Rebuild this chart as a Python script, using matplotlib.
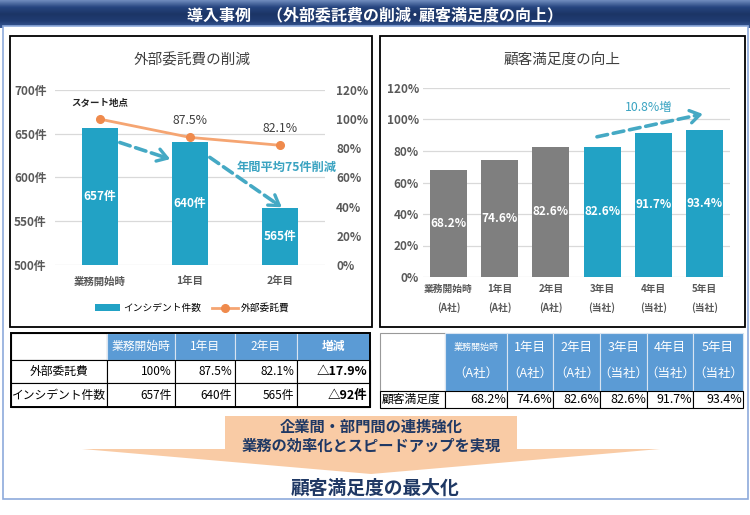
import numpy as np
import matplotlib
matplotlib.use("Agg")
import matplotlib.pyplot as plt
from matplotlib.patches import Rectangle, Polygon
from matplotlib.colors import LinearSegmentedColormap

plt.rcParams["font.family"] = ["Noto Sans CJK JP", "DejaVu Sans"]

# ---- data ----
left_cats = ["業務開始時", "1年目", "2年目"]
incidents = [657, 640, 565]
cost_pct = [100, 87.5, 82.1]
inc_ticks = [500, 550, 600, 650, 700]
pct_ticks = [0, 20, 40, 60, 80, 100, 120]

right_cats = ["業務開始時", "1年目", "2年目", "3年目", "4年目", "5年目"]
companies = ["A社", "A社", "A社", "当社", "当社", "当社"]
satisfaction = [68.2, 74.6, 82.6, 82.6, 91.7, 93.4]

TEAL = "#22a2c5"
GRAY = "#7f7f7f"
ARROW = "#45a9c4"
HEAD_BLUE = "#5b9bd5"
NAVY = "#1f3864"

W, H = 750, 515
fig = plt.figure(figsize=(W / 100, H / 100), dpi=100)


def fax(x0, y0, x1, y1):
    return fig.add_axes([x0 / W, 1 - y1 / H, (x1 - x0) / W, (y1 - y0) / H])


def dashed_arrow(ax, start, end, color=ARROW):
    ax.annotate("", xy=end, xytext=start, annotation_clip=False,
                arrowprops=dict(arrowstyle="-", lw=2.6, color=color,
                                linestyle=(0, (3, 1.6)), shrinkA=0, shrinkB=3))
    p0 = ax.transData.transform(start)
    p1 = ax.transData.transform(end)
    d = (p1 - p0) / np.hypot(*(p1 - p0))
    back = -d * 8 * 0.72
    ax.annotate("", xy=end, xytext=(back[0], back[1]), textcoords="offset points",
                annotation_clip=False,
                arrowprops=dict(arrowstyle="->,head_length=0.7,head_width=0.45",
                                lw=2.4, color=color, shrinkA=0, shrinkB=0))


# ---- background overlay (pixel coords) ----
ov = fig.add_axes([0, 0, 1, 1])
ov.set_xlim(0, W)
ov.set_ylim(H, 0)
ov.axis("off")

ov.add_patch(Rectangle((3, 26), 745, 473, facecolor="white", edgecolor="#8eaadb", lw=1.2))
cmap = LinearSegmentedColormap.from_list("banner", ["#6f8bbd", "#26457f", "#1c3566", "#203c72", "#3a5a96"])
grad = np.linspace(0, 1, 50).reshape(-1, 1)
ov.imshow(grad, extent=[0, W, 28, 0], aspect="auto", cmap=cmap, origin="upper")
ov.set_xlim(0, W)
ov.set_ylim(H, 0)
ov.text(375, 15, "導入事例　（外部委託費の削減･顧客満足度の向上）", color="white",
        fontsize=11.5, fontweight="bold", ha="center", va="center")

# panel boxes
ov.add_patch(Rectangle((10, 36), 362, 291, facecolor="white", edgecolor="black", lw=1.3))
ov.add_patch(Rectangle((380, 36), 365, 291, facecolor="white", edgecolor="black", lw=1.3))
ov.text(192, 60, "外部委託費の削減", fontsize=10.5, color="#404040", ha="center", va="center")
ov.text(562, 60, "顧客満足度の向上", fontsize=10.5, color="#404040", ha="center", va="center")

# ---- left table ----
lx = [11, 107, 175, 235, 297, 370]
ly = [333, 360, 383, 407]
cost_cells = [f"{v:g}%" for v in cost_pct]
inc_cells = [f"{v}件" for v in incidents]
rows = [
    ["外部委託費"] + cost_cells + [f"△{cost_pct[0] - cost_pct[-1]:.1f}%"],
    ["インシデント件数"] + inc_cells + [f"△{incidents[0] - incidents[-1]}件"],
]
header = [""] + left_cats + ["増減"]
for j in range(5):
    fc = "white" if j == 0 else HEAD_BLUE
    ec = "black" if j == 0 else "#d8e4f2"
    ov.add_patch(Rectangle((lx[j], ly[0]), lx[j + 1] - lx[j], ly[1] - ly[0], facecolor=fc, edgecolor=ec, lw=0.8))
    ov.text((lx[j] + lx[j + 1]) / 2, (ly[0] + ly[1]) / 2, header[j], color="white", fontsize=8.5,
            fontweight="bold" if j == 4 else "normal", ha="center", va="center")
for i, row in enumerate(rows):
    y0, y1 = ly[i + 1], ly[i + 2]
    for j in range(5):
        ov.add_patch(Rectangle((lx[j], y0), lx[j + 1] - lx[j], y1 - y0, facecolor="white", edgecolor="black", lw=0.8))
        if j == 0:
            ov.text((lx[0] + lx[1]) / 2, (y0 + y1) / 2, row[j], fontsize=8.5, ha="center", va="center")
        else:
            ov.text(lx[j + 1] - 3, (y0 + y1) / 2, row[j], fontsize=8.5 if j < 4 else 9,
                    fontweight="bold" if j == 4 else "normal", ha="right", va="center")
ov.add_patch(Rectangle((lx[0], ly[0]), lx[-1] - lx[0], ly[-1] - ly[0], fill=False, edgecolor="black", lw=1.4))

# ---- right table ----
rx = [380, 445, 507, 553, 600, 647, 693, 743]
ry = [333, 391, 408]
ov.add_patch(Rectangle((rx[0], ry[0]), rx[1] - rx[0], ry[1] - ry[0], facecolor="white", edgecolor="#999999", lw=0.8))
for j, (cat, co) in enumerate(zip(right_cats, companies)):
    x0, x1 = rx[j + 1], rx[j + 2]
    ov.add_patch(Rectangle((x0, ry[0]), x1 - x0, ry[1] - ry[0], facecolor=HEAD_BLUE, edgecolor="#d8e4f2", lw=0.8))
    ov.text((x0 + x1) / 2, 347, cat, color="white", fontsize=6.5 if len(cat) > 3 else 9, ha="center", va="center")
    ov.text((x0 + x1) / 2, 373, f"（{co}）", color="white", fontsize=9, ha="center", va="center")
ov.add_patch(Rectangle((rx[0], ry[1]), rx[1] - rx[0], ry[2] - ry[1], facecolor="white", edgecolor="black", lw=0.8))
ov.text(rx[0] + 2, (ry[1] + ry[2]) / 2, "顧客満足度", fontsize=8.5, ha="left", va="center")
for j, v in enumerate(satisfaction):
    x0, x1 = rx[j + 1], rx[j + 2]
    ov.add_patch(Rectangle((x0, ry[1]), x1 - x0, ry[2] - ry[1], facecolor="white", edgecolor="black", lw=0.8))
    ov.text(x1 - 1, (ry[1] + ry[2]) / 2, f"{v:.1f}%", fontsize=9, ha="right", va="center")

# ---- bottom arrow ----
PEACH = "#f9cba5"
ov.add_patch(Rectangle((225, 416), 292, 34, facecolor=PEACH, edgecolor="none"))
ov.add_patch(Polygon([(82, 449), (660, 449), (371, 474)], closed=True, facecolor=PEACH, edgecolor="none"))
ov.text(371, 427, "企業間・部門間の連携強化", fontsize=11, fontweight="bold", color=NAVY, ha="center", va="center")
ov.text(371, 446, "業務の効率化とスピードアップを実現", fontsize=11, fontweight="bold", color=NAVY, ha="center", va="center")
ov.text(375, 488, "顧客満足度の最大化", fontsize=13.5, fontweight="bold", color=NAVY, ha="center", va="center")

# ---- left chart ----
ax1 = fax(55, 90, 325, 265)
x = np.arange(len(left_cats))
bars = ax1.bar(x, incidents, width=0.39, color=TEAL, zorder=3)
ax1.set_xlim(-0.5, len(left_cats) - 0.5)
ax1.set_ylim(inc_ticks[0], inc_ticks[-1])
ax1.set_yticks(inc_ticks)
ax1.set_yticklabels([f"{t}件" for t in inc_ticks], fontsize=8.5, fontweight="bold", color="#595959")
ax1.set_xticks(x)
ax1.set_xticklabels(left_cats, fontsize=7.5, fontweight="bold", color="#595959")
ax1.yaxis.grid(True, color="#d9d9d9", lw=0.9)
ax1.set_axisbelow(True)
ax1.tick_params(length=0, axis="y", pad=6)
ax1.tick_params(length=0, axis="x", pad=8)
for s in ax1.spines.values():
    s.set_visible(False)
ax1.patch.set_alpha(0)
for xi, v in zip(x, incidents):
    ax1.text(xi, inc_ticks[0] + (v - inc_ticks[0]) / 2, f"{v}件", color="white",
             fontsize=8.5, fontweight="bold", ha="center", va="center", zorder=4)

ax2 = ax1.twinx()
line, = ax2.plot(x, cost_pct, color="#f5a572", lw=2, marker="o", ms=5.5,
                 mfc="#ef8a4c", mec="#ef8a4c", zorder=5)
ax2.set_ylim(pct_ticks[0], pct_ticks[-1])
ax2.set_yticks(pct_ticks)
ax2.set_yticklabels([f"{t}%" for t in pct_ticks], fontsize=8.5, fontweight="bold", color="#595959")
ax2.tick_params(length=0, pad=8)
for s in ax2.spines.values():
    s.set_visible(False)
for xi, v in zip(x, cost_pct):
    lab = "スタート地点" if xi == 0 else f"{v:g}%"
    ax2.annotate(lab, (xi, v), xytext=(0, 12), textcoords="offset points", ha="center", va="center",
                 fontsize=6.8 if xi == 0 else 8.8, fontweight="bold" if xi == 0 else "normal",
                 color="#262626" if xi == 0 else "#404040")

dashed_arrow(ax1, (0.22, 640), (0.78, 621))
dashed_arrow(ax1, (1.22, 623), (2.02, 566))
ax1.text(2.07, 612, "年間平均75件削減", color="#3aa3c1", fontsize=8.8, fontweight="bold",
         ha="center", va="center", zorder=6)

fig.legend([bars, line], ["インシデント件数", "外部委託費"], loc="center",
           bbox_to_anchor=(192 / W, 1 - 308 / H), ncol=2, frameon=False,
           prop={"size": 7}, handlelength=2.6, columnspacing=1.2, handletextpad=0.3)

# ---- right chart ----
ax3 = fax(423, 88, 730, 277)
xr = np.arange(len(right_cats))
rcolors = [GRAY if co == "A社" else TEAL for co in companies]
ax3.bar(xr, satisfaction, width=0.72, color=rcolors, zorder=3)
ax3.set_xlim(-0.5, len(right_cats) - 0.5)
ax3.set_ylim(pct_ticks[0], pct_ticks[-1])
ax3.set_yticks(pct_ticks)
ax3.set_yticklabels([f"{t}%" for t in pct_ticks], fontsize=8.5, fontweight="bold", color="#595959")
ax3.set_xticks(xr)
ax3.set_xticklabels([f"{c}\n({co})" for c, co in zip(right_cats, companies)],
                    fontsize=7, fontweight="bold", color="#595959", linespacing=1.9)
ax3.yaxis.grid(True, color="#d9d9d9", lw=0.9)
ax3.set_axisbelow(True)
ax3.tick_params(length=0, axis="y", pad=3)
ax3.tick_params(length=0, axis="x", pad=5)
for s in ax3.spines.values():
    s.set_visible(False)
ax3.patch.set_alpha(0)
for xi, v in zip(xr, satisfaction):
    ax3.text(xi, v / 2, f"{v:.1f}%", color="white", fontsize=8.5, fontweight="bold",
             ha="center", va="center", zorder=4)
dashed_arrow(ax3, (2.9, 89), (4.97, 103.5))
ax3.text(3.9, 107.5, "10.8%増", color="#3aa3c1", fontsize=8.8, ha="center", va="center")

fig.savefig("out.png", dpi=100)
